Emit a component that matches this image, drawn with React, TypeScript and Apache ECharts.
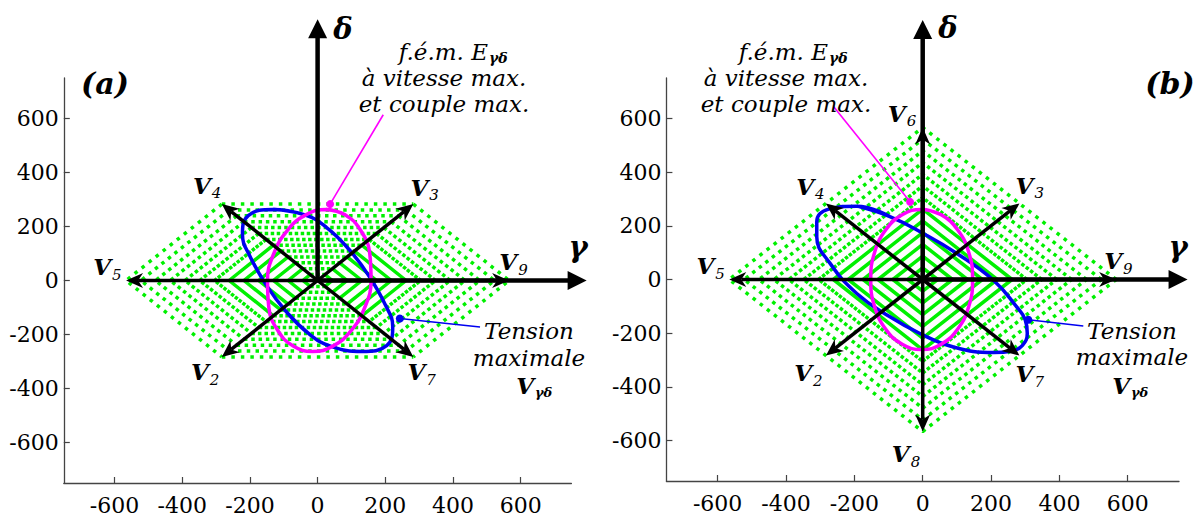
import { useEffect, useRef } from 'react';
import * as echarts from 'echarts';

// ---------- data ----------
const AXIS_MIN = -750;
const AXIS_MAX = 750;
const TICKS = [-600, -400, -200, 0, 200, 400, 600];

// outer polygons of the reachable-voltage zone
const HEX_SLANTS_A = [[[-283, 283], [-566, 0], [-283, -283]], [[283, 283], [566, 0], [283, -283]]];
const HEX_FLATS_A = [[[-283, 283], [283, 283]], [[-283, -283], [283, -283]]];
const DIAMOND_B = [[566, 0], [0, 566], [-566, 0], [0, -566], [566, 0]];
// nested levels of the dotted polygons
const LEVELS = [0.077, 0.154, 0.231, 0.308, 0.385, 0.462, 0.538, 0.615, 0.692, 0.769, 0.846, 0.923, 1];

// voltage vectors
const VECTORS_A = [[283, 283], [-283, 283], [-566, 0], [-283, -283], [283, -283], [566, 0]];
const VECTOR_NAMES_A = ['3', '4', '5', '2', '7', '9'];
const VECTORS_B = [[283, 283], [-283, 283], [-566, 0], [-283, -283], [283, -283], [566, 0], [0, 566], [0, -566]];
const VECTOR_NAMES_B = ['3', '4', '5', '2', '7', '9', '6', '8'];

// gamma / delta axis arrows (end points)
const AXIS_ARROWS_A = [[795, 0], [0, 968]];
const AXIS_ARROWS_B = [[775, 0], [0, 966]];

// f.e.m. ellipse (magenta)
const EMF_A = [[25, 263], [82, 243], [127, 186], [154, 101], [158, 0], [139, -101], [99, -186], [45, -243], [-15, -263], [-72, -243], [-117, -186], [-144, -101], [-148, 0], [-129, 101], [-89, 186], [-35, 243]];
const EMF_B = [[-3, 261], [54, 241], [102, 185], [135, 100], [146, 0], [135, -100], [102, -185], [54, -241], [-3, -261], [-60, -241], [-108, -185], [-141, -100], [-152, 0], [-141, 100], [-108, 185], [-60, 241]];
// max voltage ellipse (blue)
const VOLT_A = [[-131, 263], [-40, 244], [25, 198], [95, 112], [150, 20], [200, -90], [222, -170], [205, -240], [131, -263], [40, -244], [-25, -198], [-95, -112], [-150, -20], [-200, 90], [-222, 170], [-205, 240]];
const VOLT_B = [[-193, 273], [-96, 234], [2, 171], [100, 97], [207, -3], [275, -102], [300, -150], [306, -200], [292, -245], [262, -266], [207, -272], [90, -251], [-8, -201], [-96, -139], [-193, -52], [-271, 60], [-310, 159], [-310, 215], [-275, 262]];

// annotation pointers: [dot, end]
const EMF_POINTER_A = [[37, 283], [194, 614]];
const EMF_POINTER_B = [[-37, 289], [-261, 644]];
const VOLT_POINTER_A = [[243, -141], [480, -172]];
const VOLT_POINTER_B = [[309, -150], [470, -173]];

// ---------- styles ----------
const FONT = 'DejaVu Serif';
const GREEN = '#00f000';
const MAGENTA = '#ff00ff';
const BLUE = '#0000f0';
const LABEL_OFFSETS_A: Record<string, number[]> = { '3': [9, -17], '4': [-17, -19], '5': [-21, -14], '9': [2, -19], '2': [-19, 15], '7': [6, 15] };
const LABEL_OFFSETS_B: Record<string, number[]> = { '3': [8, -18], '4': [-18, -17], '5': [-21, -14], '9': [0, -19], '2': [-20, 17], '7': [8, 18], '6': [-23, -14], '8': [-19, 22] };

function dashFor(s: number): any {
  const period = 9 * s;
  if (period <= 4.2) return 'solid';
  return [3.5, period - 3.5];
}
function flatDashFor(s: number): any {
  const period = Math.max(6, 9.5 * s);
  return [3.5, period - 3.5];
}

function dottedLine(pts: number[][], idx: number, type: any) {
  return {
    type: 'line',
    xAxisIndex: idx,
    yAxisIndex: idx,
    data: pts,
    showSymbol: false,
    silent: true,
    lineStyle: { color: GREEN, width: 3.5, type },
    z: 1,
  };
}

function scaled(poly: number[][], s: number) {
  return poly.map((p) => [p[0] * s, p[1] * s]);
}

function hexagonSeries(idx: number) {
  const out: any[] = [];
  LEVELS.forEach((s) => {
    HEX_SLANTS_A.forEach((poly) => out.push(dottedLine(scaled(poly, s), idx, dashFor(s))));
    HEX_FLATS_A.forEach((poly) => out.push(dottedLine(scaled(poly, s), idx, flatDashFor(s))));
  });
  return out;
}

function diamondSeries(idx: number) {
  return LEVELS.map((s) => dottedLine(scaled(DIAMOND_B, s), idx, dashFor(s)));
}

function closed(pts: number[][]) {
  return [...pts, pts[0], pts[1]];
}

function ellipseSeries(pts: number[][], idx: number, color: string) {
  return {
    type: 'line',
    xAxisIndex: idx,
    yAxisIndex: idx,
    data: closed(pts),
    smooth: 0.45,
    showSymbol: false,
    silent: true,
    clip: false,
    lineStyle: { color, width: 3.5 },
    z: 3,
  };
}

function pointerSeries(pts: number[][], idx: number, color: string) {
  return {
    type: 'line',
    xAxisIndex: idx,
    yAxisIndex: idx,
    data: [
      { value: pts[0], symbol: 'circle', symbolSize: 8 },
      { value: pts[1], symbol: 'none' },
    ],
    showSymbol: true,
    silent: true,
    clip: false,
    itemStyle: { color },
    lineStyle: { color, width: 1.6 },
    z: 4,
  };
}

function axisArrowSeries(pts: number[][], idx: number) {
  return {
    type: 'custom',
    xAxisIndex: idx,
    yAxisIndex: idx,
    data: pts,
    encode: { x: 0, y: 1 },
    clip: false,
    silent: true,
    z: 5,
    renderItem: (_params: any, api: any) => {
      const o = api.coord([0, 0]);
      const t = api.coord([api.value(0), api.value(1)]);
      const dx = t[0] - o[0];
      const dy = t[1] - o[1];
      const len = Math.hypot(dx, dy);
      const ux = dx / len;
      const uy = dy / len;
      const px = -uy;
      const py = ux;
      const L = 19;
      const W = 9.5;
      const b = [t[0] - ux * L, t[1] - uy * L];
      return {
        type: 'group',
        children: [
          { type: 'line', shape: { x1: o[0], y1: o[1], x2: b[0] + ux * 2, y2: b[1] + uy * 2 }, style: { stroke: '#000', lineWidth: 4.5 } },
          { type: 'polygon', shape: { points: [t, [b[0] + px * W, b[1] + py * W], [b[0] - px * W, b[1] - py * W]] }, style: { fill: '#000' } },
        ],
      };
    },
  };
}

function vectorSeries(pts: number[][], names: string[], offsets: Record<string, number[]>, idx: number) {
  return {
    type: 'custom',
    xAxisIndex: idx,
    yAxisIndex: idx,
    data: pts,
    encode: { x: 0, y: 1 },
    clip: false,
    silent: true,
    z: 6,
    renderItem: (params: any, api: any) => {
      const o = api.coord([0, 0]);
      const t = api.coord([api.value(0), api.value(1)]);
      const dx = t[0] - o[0];
      const dy = t[1] - o[1];
      const len = Math.hypot(dx, dy);
      const ux = dx / len;
      const uy = dy / len;
      const px = -uy;
      const py = ux;
      const L = 17;
      const W = 7.5;
      const N = 5;
      const back = [t[0] - ux * (L - N), t[1] - uy * (L - N)];
      const name = names[params.dataIndex];
      const off = offsets[name] || [0, 0];
      const lx = t[0] + off[0];
      const ly = t[1] + off[1];
      return {
        type: 'group',
        children: [
          { type: 'line', shape: { x1: o[0], y1: o[1], x2: back[0], y2: back[1] }, style: { stroke: '#000', lineWidth: 3.5 } },
          {
            type: 'polygon',
            shape: { points: [t, [t[0] - ux * L + px * W, t[1] - uy * L + py * W], back, [t[0] - ux * L - px * W, t[1] - uy * L - py * W]] },
            style: { fill: '#000' },
          },
          { type: 'text', x: lx + 6, y: ly, style: { text: 'V', fontStyle: 'italic', fontWeight: 'bold', fontSize: 23, fontFamily: FONT, fill: '#000', align: 'right', verticalAlign: 'middle' } },
          { type: 'text', x: lx + 7, y: ly + 8, style: { text: name, fontStyle: 'italic', fontSize: 15, fontFamily: FONT, fill: '#000', align: 'left', verticalAlign: 'middle' } },
        ],
      };
    },
  };
}

function makeAxis(idx: number, isX: boolean) {
  return {
    type: 'value',
    gridIndex: idx,
    min: AXIS_MIN,
    max: AXIS_MAX,
    axisLine: { show: true, onZero: false, lineStyle: { color: '#444', width: 1.3 } },
    axisTick: { show: true, inside: true, length: 6, customValues: TICKS, lineStyle: { color: '#444', width: 1.2 } },
    axisLabel: { show: true, customValues: TICKS, margin: isX ? 11 : 5, color: '#000', fontFamily: FONT, fontSize: 22 },
    splitLine: { show: false },
  };
}

function txt(x: number, y: number, text: string, size: number, italic: boolean, bold: boolean, align = 'center') {
  return {
    type: 'text',
    x,
    y,
    silent: true,
    z: 10,
    style: {
      text,
      fontFamily: FONT,
      fontSize: size,
      fontStyle: italic ? 'italic' : 'normal',
      fontWeight: bold ? 'bold' : 'normal',
      fill: '#000',
      align,
      textAlign: align,
      verticalAlign: 'middle',
      textVerticalAlign: 'middle',
    },
  };
}

export default function App() {
  const ref = useRef<HTMLDivElement>(null);
  useEffect(() => {
    if (!ref.current) return;
    const chart = echarts.init(ref.current, undefined, { renderer: 'svg' });
    const option: any = {
      animation: false,
      backgroundColor: '#fff',
      grid: [
        { left: 63.8, top: 78, width: 507.6, height: 405 },
        { left: 666.4, top: 78, width: 512.6, height: 403 },
      ],
      xAxis: [makeAxis(0, true), makeAxis(1, true)],
      yAxis: [makeAxis(0, false), makeAxis(1, false)],
      series: [
        ...hexagonSeries(0),
        ...diamondSeries(1),
        ellipseSeries(VOLT_A, 0, BLUE),
        ellipseSeries(EMF_A, 0, MAGENTA),
        ellipseSeries(VOLT_B, 1, BLUE),
        ellipseSeries(EMF_B, 1, MAGENTA),
        pointerSeries(EMF_POINTER_A, 0, MAGENTA),
        pointerSeries(EMF_POINTER_B, 1, MAGENTA),
        pointerSeries(VOLT_POINTER_A, 0, BLUE),
        pointerSeries(VOLT_POINTER_B, 1, BLUE),
        axisArrowSeries(AXIS_ARROWS_A, 0),
        axisArrowSeries(AXIS_ARROWS_B, 1),
        vectorSeries(VECTORS_A, VECTOR_NAMES_A, LABEL_OFFSETS_A, 0),
        vectorSeries(VECTORS_B, VECTOR_NAMES_B, LABEL_OFFSETS_B, 1),
      ],
      graphic: [
        txt(105, 83, '(a)', 30, true, true),
        txt(1170, 83, '(b)', 30, true, true),
        txt(343, 29, 'δ', 29, true, true),
        txt(948, 28, 'δ', 29, true, true),
        txt(578, 247, 'γ', 29, true, true),
        txt(1178, 247, 'γ', 29, true, true),
        // annotation (a)
        txt(488, 52, 'f.é.m. E', 23, true, false, 'right'),
        txt(489, 58, 'γδ', 14, true, true, 'left'),
        txt(444, 78, 'à vitesse max.', 23, true, false),
        txt(444, 104, 'et couple max.', 23, true, false),
        txt(529, 331, 'Tension', 23, true, false),
        txt(529, 358, 'maximale', 23, true, false),
        txt(534, 385, 'V', 23, true, true, 'right'),
        txt(535, 392, 'γδ', 13, true, true, 'left'),
        // annotation (b)
        txt(828, 52, 'f.é.m. E', 23, true, false, 'right'),
        txt(829, 58, 'γδ', 14, true, true, 'left'),
        txt(786, 78, 'à vitesse max.', 23, true, false),
        txt(786, 104, 'et couple max.', 23, true, false),
        txt(1132, 331, 'Tension', 23, true, false),
        txt(1132, 357, 'maximale', 23, true, false),
        txt(1130, 385, 'V', 23, true, true, 'right'),
        txt(1131, 392, 'γδ', 13, true, true, 'left'),
      ],
    };
    chart.setOption(option);
    return () => chart.dispose();
  }, []);
  return <div ref={ref} style={{ position: 'fixed', left: 0, top: 0, width: 1195, height: 517, background: '#fff' }} />;
}
